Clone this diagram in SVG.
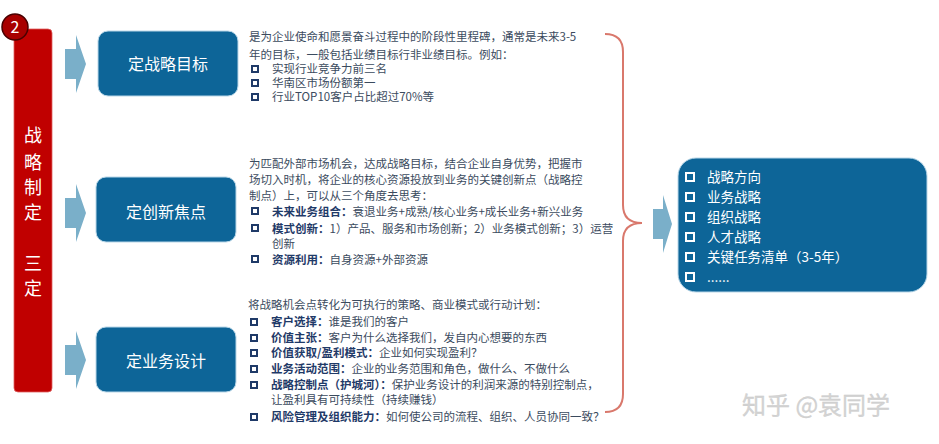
<svg xmlns="http://www.w3.org/2000/svg" width="939" height="444" viewBox="0 0 939 444">
<defs>
<style>
text{font-family:"Noto Sans CJK SC","Noto Sans",sans-serif;}
.box{fill:#0d6598;stroke:#b9d7e8;stroke-width:1;}
.lbl{fill:#ffffff;font-size:16px;text-anchor:middle;}
.arr{fill:#7aafc9;}
.body{fill:#3b4b5e;font-size:11.5px;}
.b{fill:#1f3a68;font-weight:bold;}
.sq{fill:none;stroke:#1f3a68;stroke-width:2;}
.wsq{fill:none;stroke:#ffffff;stroke-width:2;}
.rt{fill:#ffffff;font-size:13.5px;}
.vt{fill:#ffffff;font-size:18px;text-anchor:middle;}
</style>
</defs>
<rect width="939" height="444" fill="#ffffff"/>

<g id="side">
<rect x="14" y="29" width="38" height="363" rx="4" fill="#c00000" stroke="#e06060" stroke-width="0.8"/>
<text class="vt" x="33" y="142">战</text>
<text class="vt" x="33" y="169">略</text>
<text class="vt" x="33" y="194">制</text>
<text class="vt" x="33" y="219">定</text>
<text class="vt" x="33" y="270">三</text>
<text class="vt" x="33" y="295">定</text>
<circle cx="15" cy="27" r="13" fill="#a80000" stroke="#4a0000" stroke-width="1.5"/>
<text x="15" y="33" fill="#ffffff" font-size="16" text-anchor="middle">2</text>
</g>

<g id="connectors">
<path class="arr" d="M65,49 H76 V35 L86,64 L76,93 V79 H65 Z"/>
<path class="arr" d="M65,198 H76 V184 L86,213 L76,242 V228 H65 Z"/>
<path class="arr" d="M65,345 H76 V331 L86,360 L76,389 V375 H65 Z"/>
<path d="M605,34 Q623,34 623,52 V205 Q623,223 642,223 Q623,223 623,241 V394 Q623,412 605,412" fill="none" stroke="#d9786c" stroke-width="2"/>
<path class="arr" d="M653,209 H663 V195 L672,224 L663,253 V239 H653 Z"/>
</g>

<g id="goal">
<rect class="box" x="98" y="31" width="140" height="65" rx="10"/>
<text class="lbl" x="168" y="70">定战略目标</text>
</g>
<g id="focus">
<rect class="box" x="96" y="177" width="140" height="65" rx="10"/>
<text class="lbl" x="166" y="218">定创新焦点</text>
</g>
<g id="design">
<rect class="box" x="96" y="327" width="140" height="65" rx="10"/>
<text class="lbl" x="166" y="367">定业务设计</text>
</g>

<g id="goal-text">
<text class="body" x="249" y="41" font-size="12">是为企业使命和愿景奋斗过程中的阶段性里程碑，通常是未来3-5</text>
<text class="body" x="249" y="59" font-size="12">年的目标，一般包括业绩目标行非业绩目标。例如：</text>
<rect class="sq" x="252" y="66" width="6" height="6"/>
<text class="body" x="272" y="73" font-size="10.8">实现行业竞争力前三名</text>
<rect class="sq" x="252" y="80" width="6" height="6"/>
<text class="body" x="272" y="87" font-size="10.8">华南区市场份额第一</text>
<rect class="sq" x="252" y="94" width="6" height="6"/>
<text class="body" x="272" y="101" font-size="10.8">行业TOP10客户占比超过70%等</text>
</g>

<g id="focus-text">
<text class="body" x="249" y="168" font-size="12">为匹配外部市场机会，达成战略目标，结合企业自身优势，把握市</text>
<text class="body" x="249" y="184" font-size="12">场切入时机，将企业的核心资源投放到业务的关键创新点（战略控</text>
<text class="body" x="249" y="200" font-size="12">制点）上，可以从三个角度去思考：</text>
<rect class="sq" x="252" y="208" width="6" height="6"/>
<text class="body" x="272" y="216"><tspan class="b">未来业务组合：</tspan>衰退业务+成熟/核心业务+成长业务+新兴业务</text>
<rect class="sq" x="252" y="225" width="6" height="6"/>
<text class="body" x="272" y="233"><tspan class="b">模式创新：</tspan>1）产品、服务和市场创新；2）业务模式创新；3）运营</text>
<text class="body" x="272" y="248">创新</text>
<rect class="sq" x="252" y="256" width="6" height="6"/>
<text class="body" x="272" y="264"><tspan class="b">资源利用：</tspan>自身资源+外部资源</text>
</g>

<g id="design-text">
<text class="body" x="248" y="309" font-size="11.8">将战略机会点转化为可执行的策略、商业模式或行动计划：</text>
<rect class="sq" x="251" y="319" width="6" height="6"/>
<text class="body" x="271" y="326" font-size="11"><tspan class="b">客户选择：</tspan>谁是我们的客户</text>
<rect class="sq" x="251" y="335" width="6" height="6"/>
<text class="body" x="271" y="342" font-size="11"><tspan class="b">价值主张：</tspan>客户为什么选择我们，发自内心想要的东西</text>
<rect class="sq" x="251" y="350" width="6" height="6"/>
<text class="body" x="271" y="357" font-size="11"><tspan class="b">价值获取/盈利模式：</tspan>企业如何实现盈利？</text>
<rect class="sq" x="251" y="366" width="6" height="6"/>
<text class="body" x="271" y="373" font-size="11"><tspan class="b">业务活动范围：</tspan>企业的业务范围和角色，做什么、不做什么</text>
<rect class="sq" x="251" y="382" width="6" height="6"/>
<text class="body" x="271" y="389" font-size="11"><tspan class="b">战略控制点（护城河）：</tspan>保护业务设计的利润来源的特别控制点，</text>
<text class="body" x="271" y="404" font-size="11">让盈利具有可持续性（持续赚钱）</text>
<rect class="sq" x="251" y="414" width="6" height="6"/>
<text class="body" x="271" y="421" font-size="11"><tspan class="b">风险管理及组织能力：</tspan>如何使公司的流程、组织、人员协同一致？</text>
</g>

<g id="result">
<rect class="box" x="678" y="158" width="249" height="134" rx="18"/>
<rect class="wsq" x="686" y="173" width="8" height="8"/>
<text class="rt" x="707" y="182">战略方向</text>
<rect class="wsq" x="686" y="193" width="8" height="8"/>
<text class="rt" x="707" y="202">业务战略</text>
<rect class="wsq" x="686" y="213" width="8" height="8"/>
<text class="rt" x="707" y="222">组织战略</text>
<rect class="wsq" x="686" y="233" width="8" height="8"/>
<text class="rt" x="707" y="242">人才战略</text>
<rect class="wsq" x="686" y="253" width="8" height="8"/>
<text class="rt" x="707" y="262">关键任务清单（3-5年）</text>
<rect class="wsq" x="686" y="273" width="8" height="8"/>
<text class="rt" x="707" y="282">......</text>
</g>

<text x="742" y="414" fill="#d4d4d4" font-size="24" stroke="#c8c8c8" stroke-width="0.3">知乎 @袁同学</text>
</svg>
